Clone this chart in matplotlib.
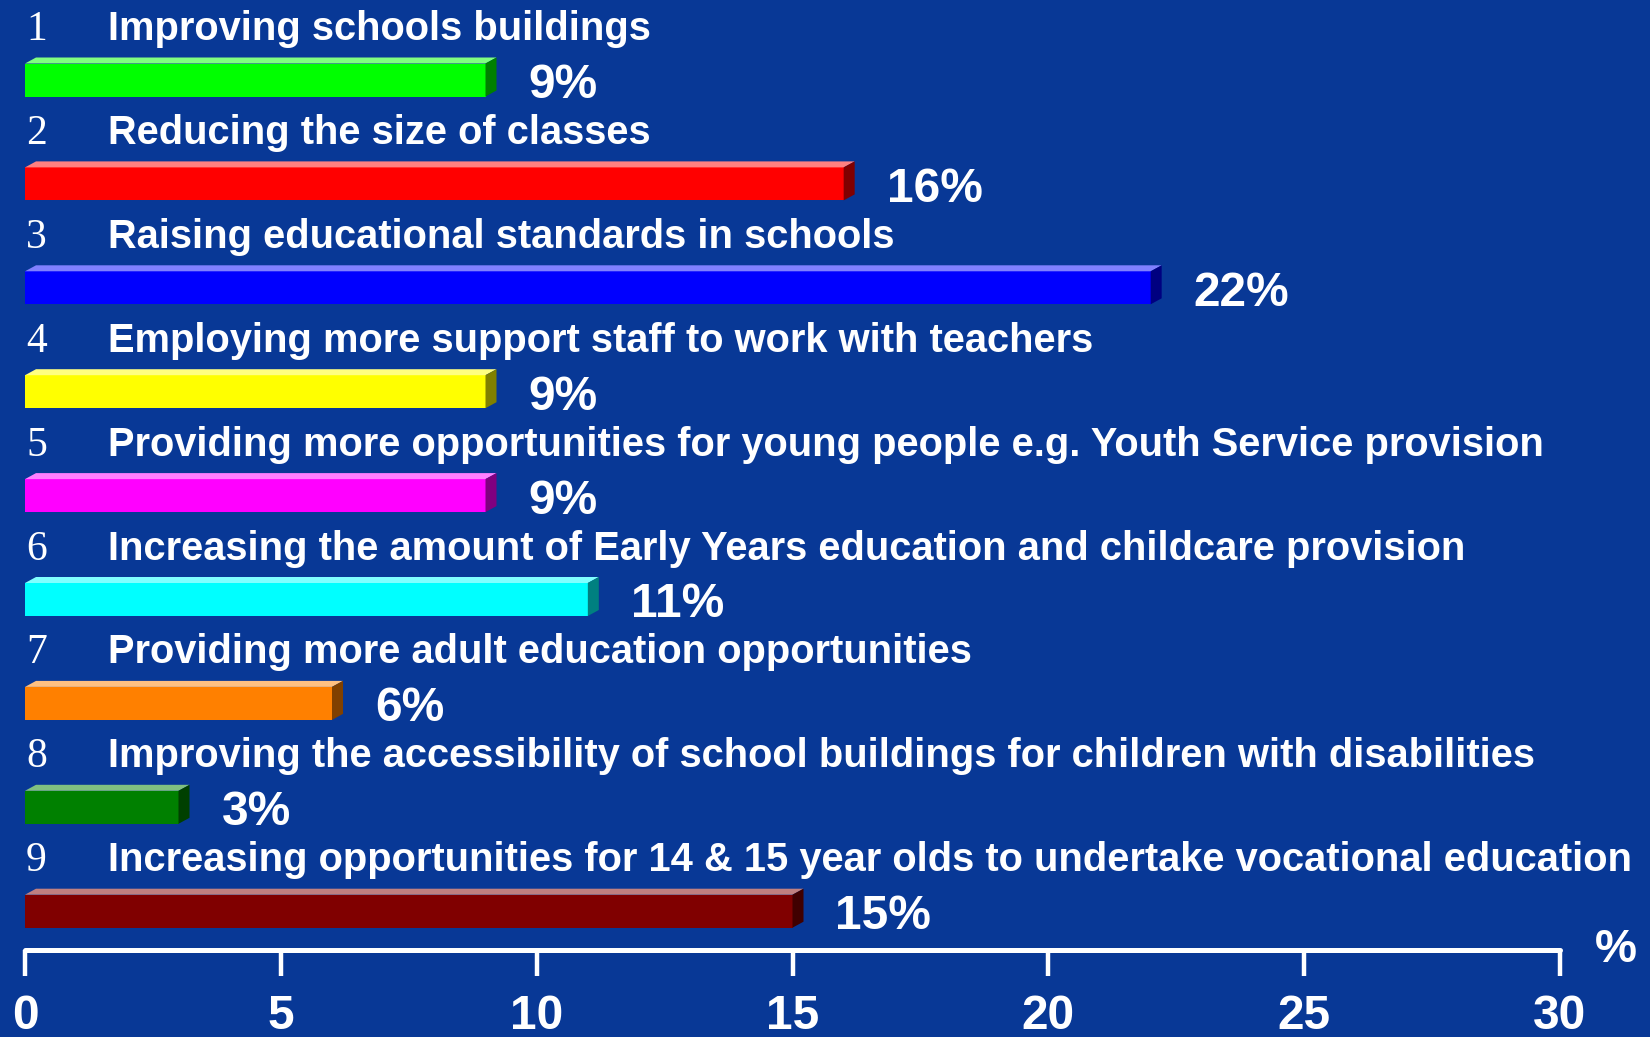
import matplotlib.pyplot as plt
from matplotlib.patches import Polygon
from matplotlib.colors import to_rgb
import numpy as np

labels = [
    "Improving schools buildings",
    "Reducing the size of classes",
    "Raising educational standards in schools",
    "Employing more support staff to work with teachers",
    "Providing more opportunities for young people e.g. Youth Service provision",
    "Increasing the amount of Early Years education and childcare provision",
    "Providing more adult education opportunities",
    "Improving the accessibility of school buildings for children with disabilities",
    "Increasing opportunities for 14 & 15 year olds to undertake vocational education",
]
values = [9, 16, 22, 9, 9, 11, 6, 3, 15]
colors = ["#00FF00", "#FF0000", "#0000FF", "#FFFF00", "#FF00FF",
          "#00FFFF", "#FF8000", "#008000", "#800000"]
ticks = [0, 5, 10, 15, 20, 25, 30]

BG = "#083896"
W, H = 1650, 1037

fig = plt.figure(figsize=(W / 100, H / 100), dpi=100, facecolor=BG)
# axes: x 0..30 spans px 25..1560, bottom edge at axis line (px 950)
ax = fig.add_axes([25 / W, 1 - 950 / H, (1560 - 25) / W, 950 / H])
ax.set_facecolor(BG)
ax.set_xlim(0, 30)
row_px = 103.9
ax.set_ylim((950 - 80) / row_px, -80 / row_px)

px_x = 30 / 1535.0      # data units per pixel in x
px_y = 1 / row_px       # data units per pixel in y
bar_h = 33 * px_y
dx, dy = 11 * px_x, 6 * px_y

y = np.arange(len(values))
ax.barh(y, values, height=bar_h, color=colors, zorder=2)


def mix(c, t, k):
    c = np.array(to_rgb(c))
    return tuple(c * (1 - k) + np.array(t) * k)


for i, (v, c) in enumerate(zip(values, colors)):
    top = i - bar_h / 2
    bot = i + bar_h / 2
    ax.add_patch(Polygon([(0, top), (v, top), (v + dx, top - dy), (dx, top - dy)],
                         closed=True, color=mix(c, (1, 1, 1), 0.5), lw=0, zorder=2))
    ax.add_patch(Polygon([(v, top), (v + dx, top - dy), (v + dx, bot - dy), (v, bot)],
                         closed=True, color=mix(c, (0, 0, 0), 0.5), lw=0, zorder=2))
    # number and label above the bar
    ax.text(1 * px_x, i - 40 * px_y, str(i + 1), color="white", fontsize=30,
            family="Liberation Serif", va="baseline", ha="left")
    ax.text(83 * px_x, i - 40 * px_y, labels[i], color="white", fontsize=28.7,
            family="Liberation Sans", fontweight="bold", va="baseline", ha="left")
    ax.text(v + 43 * px_x, i + 18 * px_y, f"{v}%", color="white", fontsize=34.5,
            family="Liberation Sans", fontweight="bold", va="baseline", ha="left")

for s in ["top", "left", "right"]:
    ax.spines[s].set_visible(False)
ax.spines["bottom"].set_color("white")
ax.spines["bottom"].set_linewidth(3.6)
ax.spines["bottom"].set_capstyle("round")
ax.set_yticks([])
ax.set_xticks(ticks)
ax.set_xticklabels([str(t) for t in ticks], color="white", fontsize=34.5,
                   family="Liberation Sans", fontweight="bold")
ax.tick_params(axis="x", length=18.5, width=3.2, color="white", pad=13)
for t in ax.xaxis.get_ticklines():
    t.set_solid_capstyle("round")

ax.text(1.0 + 56 / 1535, 0, "%", transform=ax.transAxes, color="white", fontsize=34,
        family="Liberation Sans", fontweight="bold", va="center", ha="center")

fig.savefig("out.png", dpi=100, facecolor=BG)
